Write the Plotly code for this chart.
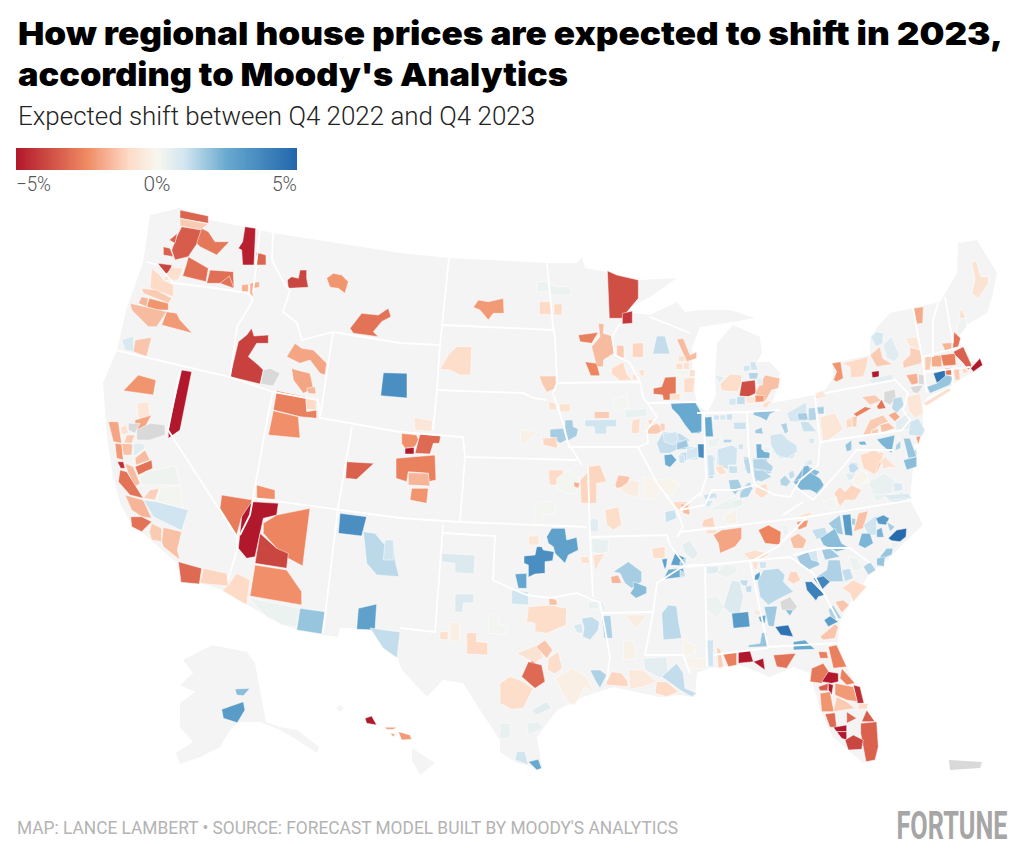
import json
import plotly.graph_objects as go
from plotly.colors import sample_colorscale

NA = None
TITLE_LINES = ["How regional house prices are expected to shift in 2023,", "according to Moody's Analytics"]
SUBTITLE = "Expected shift between Q4 2022 and Q4 2023"
SOURCE = "MAP: LANCE LAMBERT • SOURCE: FORECAST MODEL BUILT BY MOODY'S ANALYTICS"
BRAND = "FORTUNE"
LEGEND_TICKS = ["−5%", "0%", "5%"]
COLORSCALE = [[0, "#b2182b"], [0.25, "#ef8a62"], [0.4, "#fddbc7"], [0.5, "#f7f7f0"], [0.6, "#d1e5f0"], [0.75, "#67a9cf"], [1, "#2166ac"]]

LAND = [
 [150,215,180,208,210,220,243,227,273,233,400,253,450,258,547,263,577,263,582,257,585,268,607,272,640,280,677,278,650,297,622,312,650,315,677,302,685,312,700,310,730,310,755,318,733,322,700,327,692,347,693,380,697,405,708,412,716,395,715,377,717,343,733,325,760,337,762,353,757,362,770,362,780,373,778,387,772,403,815,395,825,390,833,378,833,363,870,355,870,340,877,327,890,313,913,308,940,302,957,273,958,243,977,240,997,273,993,293,987,313,963,327,957,343,963,347,965,360,983,363,980,370,967,375,948,388,927,397,923,405,923,427,917,443,905,452,913,467,910,500,923,525,907,540,887,560,870,573,850,603,840,620,837,647,850,673,877,737,877,757,863,763,833,737,820,710,810,673,793,667,770,677,740,665,710,668,697,673,695,697,680,695,660,697,613,687,583,697,557,710,537,737,542,768,517,763,500,752,500,740,480,710,463,683,443,680,427,697,402,670,397,657,370,628,340,628,338,637,323,635,300,630,282,625,248,605,222,590,200,583,180,582,177,563,150,540,130,522,120,503,113,477,107,437,103,383,117,350,127,307,143,263],
 [212,645,247,652,255,663,266,722,280,727,297,730,319,747,317,753,297,740,280,730,260,722,238,722,230,730,220,747,200,757,180,764,176,753,193,742,180,727,180,703,195,692,180,685,193,673,183,660],
 [412,748,435,763,420,775,412,760],
 [340,705,344,708,340,712,336,708],
]
STATE_LINES = [
 [147,262,158,265,173,283,207,287,248,293,253,300,237,327,230,377],
 [260,230,253,293],
 [273,233,272,260,285,285,290,290,283,312,297,323,302,340,333,332,400,343,440,345,449,258],
 [443,325,555,330],
 [333,332,320,418,400,432,463,437,465,457,577,460],
 [440,345,437,390,433,430],
 [437,390,523,393,533,398,547,400],
 [115,350,230,377,273,392,318,400,320,418],
 [180,370,168,430,237,537,237,550,228,580],
 [273,392,267,420,253,498,400,518,460,522,587,527],
 [253,498,250,515,240,535],
 [352,427,338,508,323,633],
 [465,457,460,522],
 [443,525,435,632,400,628],
 [443,533,495,536,493,580,510,588,527,595,550,598,577,593,593,600,600,602,602,613,610,657,607,680],
 [602,613,653,612],
 [590,537,667,535,670,545],
 [588,467,590,537,593,597],
 [547,263,553,327,555,337,557,383,553,393,563,423,568,443,582,465],
 [557,383,640,382,643,397,657,417,647,430,648,443,638,447,657,483,677,510,683,527,677,537],
 [568,447,638,447],
 [620,323,612,337,615,355,630,363,640,382],
 [647,403,700,402],
 [650,317,690,333],
 [697,413,747,412,780,410],
 [704,413,706,478,700,497],
 [747,412,749,457,755,485],
 [815,397,820,442,818,465,800,480,790,497,775,495,755,485,735,490,712,490,705,505,680,510],
 [820,442,903,430],
 [825,393,895,380,908,393,903,410,910,420,902,430],
 [913,308,917,330,922,357,927,393],
 [938,303,933,320,933,357],
 [922,357,960,347],
 [925,372,970,367],
 [945,297,953,343],
 [952,368,953,385],
 [680,532,807,517,912,500],
 [797,488,813,500,840,470,857,450,893,450],
 [803,502,783,515],
 [793,555,823,548,850,548,870,563],
 [807,517,777,547,750,562],
 [685,567,790,557,813,573,838,620],
 [768,647,837,643],
 [750,562,768,647],
 [713,655,768,648],
 [705,567,707,667],
 [670,545,685,565,657,583,653,613,645,655,683,655,690,673],
 [687,565,705,565],
 [680,510,700,493],
]

NW_VALUES = [-3.3,-1.3,-3.5,-2.9,-3.4,-3.4,-4.8,-3.3,-3.1,-3.1,-3.0,-4.0,-0.8,-1.0,-1.3,-1.7,-2.3,-1.6,-2.2,-1.8,-1.8,-4.0,-2.3,-3.0,3.5,-4.1,NA,-2.0,-2.0,-1.7,-2.7,-1.0,-2.4,0.8,-1.4,-2.3,-0.6,-2.0,-5.0]
NW_OUTLINES = [
 [240,30,325,48,325,70,240,55],[240,55,325,72,300,90,240,78],[245,80,305,90,295,125,265,170,225,180,215,150,230,110],
 [305,85,325,95,345,125,388,125,350,165,300,140,290,130],[190,140,210,145,220,170,190,165],[208,120,232,100,225,130],
 [435,80,467,85,462,195,428,195,425,150,415,145,428,125],[468,157,498,165,498,195,468,195],[265,170,325,205,318,245,248,228,260,190],
 [330,210,400,215,402,265,365,250,320,250],[360,250,388,228,402,265],[175,190,215,195,215,215,195,222,175,200],
 [215,200,250,205,235,240,190,240],[155,205,180,225,190,240,220,255,220,290,150,265],[125,265,170,270,215,295,205,310,130,280],
 [125,290,145,295,140,320,115,310],[148,295,205,310,205,330,170,330,140,320],[90,310,200,335,170,380,145,380,95,330],
 [200,335,230,340,240,360,277,400,185,375],[425,255,445,252,445,275,425,275],[450,250,478,245,478,262,462,265,458,290,450,280],
 [575,230,595,235,600,210,620,210,620,235,625,262,565,265,562,240],[680,235,700,220,725,225,745,245,735,280,715,265,690,262],
 [750,385,785,340,835,345,865,325,873,350,845,365,820,395,835,410,760,400],[850,518,921,520,921,594,842,587],
 [415,425,440,405,455,385,462,408,505,405,505,430,470,430,445,470,475,495,490,510,480,552,390,530],
 [490,510,510,505,540,520,520,558,482,552],[585,430,605,445,640,450,680,490,675,525,660,520,630,480,600,490,560,470],
 [575,505,590,510,630,520,640,565,610,580,580,540],[620,565,645,560,648,582,625,580],[530,572,618,590,620,635,650,630,650,655,600,650,520,630],
 [617,590,650,595,648,630,620,628],[520,632,595,650,600,714,505,705],[65,420,100,408,103,455,75,450],[105,420,155,412,140,470,100,455],
 [115,525,168,540,160,585,70,572],[110,610,145,605,150,650,125,670,115,650],[105,660,155,645,130,690,105,690],[245,510,275,515,240,690,205,715,205,690,210,660],
]

SW_VALUES = [NA,NA,-2.0,-0.8,-1.3,-1.5,0.6,-2.2,-1.6,-3.0,-4.5,-1.6,-3.0,0.2,-1.2,0.1,-1.7,-3.0,1.0,-1.3,-1.5,-3.2,-1.1,-1.0,-2.8,-5.0,-2.6,-4.0,-2.4,-2.4,0.3,1.8,2.8,3.5,1.3,1.0,1.2,-3.4]
SW_OUTLINES = [
 [110,30,150,10,195,15,195,45,150,60,110,60],[85,10,120,10,105,40,85,30],[25,5,55,5,65,70,40,65],[62,20,80,15,85,40,65,45],
 [80,45,105,45,95,70,72,68],[65,70,98,72,95,105,70,105],[100,70,130,70,135,85,100,110],[45,70,65,72,70,120,50,115],
 [105,115,135,90,150,120,108,135],[105,140,155,120,158,145,115,165],[52,125,70,125,75,145,62,145],[75,130,100,140,120,190,105,200,85,160],
 [60,150,80,155,130,235,90,225,55,185],[135,155,190,145,225,135,240,195,170,195,125,195,118,175],[150,210,178,205,165,240,130,235],
 [180,205,240,195,250,265,170,245],[75,225,130,240,155,295,125,290,95,270],[92,290,125,290,155,305,125,335,95,320],
 [130,240,170,245,265,270,245,332,160,290],[155,310,185,325,185,365,155,360,148,335],[190,322,245,335,232,390,240,420,190,380,185,365],
 [235,425,305,445,298,492,243,487],[310,445,380,460,385,498,300,490],[410,460,450,480,440,555,367,512,385,495],
 [365,225,458,240,445,275,425,290,410,345,360,265],[425,290,455,245,535,250,530,285,490,295,465,410,440,415,415,385],
 [490,310,530,285,630,265,608,438,565,415,530,385,490,340],[480,340,530,385,565,400,560,445,465,430],[470,195,525,210,525,238,470,235],
 [465,435,560,450,605,515,605,555,450,528],[445,533,600,565,590,620,550,615,500,590],[600,565,675,575,665,642,590,630],
 [775,565,830,552,825,630,770,628],[720,280,800,290,785,348,715,340],[790,335,825,340,850,370,880,360,885,420,897,470,830,465,800,430],
 [855,360,880,360,880,420,850,420],[810,624,900,636,891,714,849,684],[740,125,822,130,770,178,737,175],
]

MW_VALUES = [-2.4,-5.0,-3.2,-0.6,0.3,-2.2,-1.0,-1.0,-3.8,-4.3,-1.6,-2.7,-2.6,-1.3,-1.1,1.2,-1.0,-0.7,-0.7,-1.6,-0.8,-0.9,-0.8,0.1,-0.8,-0.9,-2.9,-0.8,3.0,-1.3,0.4,0.1,1.0,-0.9,-1.1,-1.3,-1.3,-1.0,-0.7,-0.8,1.6,1.6,-1.1,-0.2,-0.9,1.2,1.8,0.9]
MW_OUTLINES = [
 [5,610,50,615,55,630,45,650,15,655,5,640],[15,655,42,652,42,672,15,672],[60,612,122,618,118,640,100,640,90,672,45,670],
 [42,562,98,572,95,605,45,600],[410,155,445,155,465,170,510,170,515,195,455,195,445,185,410,185],
 [235,210,265,215,310,205,312,250,280,250,265,270,240,240,220,232],[418,215,455,215,455,253,418,253],[462,222,487,222,485,255,462,255],
 [622,122,650,135,715,150,715,205,665,265,628,265],[667,250,697,243,697,280,667,282],
 [595,280,612,282,610,310,637,318,642,370,610,390,610,410,590,410,575,350,600,320],[535,315,595,307,575,340,540,335],[555,395,590,400,600,437,572,437],
 [650,345,672,347,672,385,650,380],[697,340,730,338,730,382,697,382],[770,318,795,318,810,372,758,372],
 [635,415,670,395,680,432,695,450,660,452,635,432],[697,433,715,433,715,450,697,450],[715,420,733,418,733,438,722,438],
 [830,328,850,325,870,375,890,365,890,385,860,395],[835,378,855,378,855,395,835,395],[828,400,848,400,848,418,828,418],[850,398,868,398,868,418,850,418],
 [828,420,865,420,865,438,828,438],[868,420,885,420,885,440,868,440],[852,445,885,442,880,488,852,488],
 [795,442,828,440,828,510,790,510,788,495,760,492,760,475,785,470],[810,492,840,490,840,510,810,510],
 [875,595,900,590,900,610,875,610],
 [583,545,628,545,628,565,583,565],[672,540,740,535,742,558,678,565],[640,508,680,495,685,535,645,540],
 [555,570,650,568,650,590,620,590,620,612,585,612,582,590,555,590],[697,570,720,565,718,610,693,610],[742,570,765,570,765,580,750,585],
 [738,595,770,580,795,600,770,612,740,612],[418,438,468,438,468,475,440,487,425,460],[455,487,468,487,462,510],
 [445,515,470,520,470,540,448,540],[478,522,510,522,510,545,480,545],[495,570,518,570,520,590,535,597,530,618,505,632,495,605],
 [450,598,490,595,500,630,480,640,450,620],[428,625,470,622,472,655,430,645],[360,600,375,600,412,605,372,645,362,640],
 [170,350,215,350,212,435,180,435,150,420,120,418,145,375],[770,640,790,605,840,610,870,630,840,655,810,670,780,670],
 [830,635,860,630,870,655,835,660],[860,650,895,650,895,690,860,690],
]

NE_VALUES = [-0.7,-0.9,0.2,-1.9,-3.0,-1.7,0.9,-1.3,0.6,-0.6,-1.2,-2.3,-1.0,-5.0,0.5,-1.8,NA,NA,-1.3,-1.9,-2.7,-3.4,-5.0,-3.0,4.5,1.8,-1.3,-1.0,-0.9,-0.6,-3.8,-0.9,-1.5,-2.2,-0.6,-0.8,0.9,1.2,1.0,1.0,1.4,0.5,0.5]
NE_OUTLINES = [
 [815,95,830,95,842,140,865,140,865,160,835,205,815,190,825,150],[782,235,798,265,778,265],[780,265,800,265,800,290,775,320,770,300],
 [640,235,670,230,668,280,650,282],[762,305,782,325,775,350,758,355],[725,340,755,338,755,360,735,362],[512,320,530,305,550,310,548,340,528,350],
 [510,375,540,350,548,385,578,403,530,410],[550,345,575,318,585,345,598,375,585,395,560,385],[615,325,650,320,660,360,630,350],
 [630,352,660,360,668,375,665,400,610,415,608,395,630,375],[395,400,422,395,430,445,410,455,400,450,410,425],[425,400,505,380,500,410,490,440,452,443,450,410],
 [515,425,537,422,537,443,517,445],[510,445,580,432,580,450,510,462],[618,435,652,430,655,460,635,465],[655,432,672,435,672,465,655,462],[630,470,670,465,655,490,640,488],
 [675,380,695,380,690,420,675,420],[695,378,725,375,725,410,695,410],[722,375,765,370,768,405,730,408],[760,365,790,350,815,405,805,420,790,400,765,375],
 [812,415,840,385,848,405,820,425],[735,415,755,413,755,435,738,435],[700,430,735,420,738,460,710,458],[680,470,710,460,740,435,760,440,750,465,690,490],
 [760,415,778,412,780,450,765,450],[785,410,805,420,800,430,788,430],[670,520,745,475,755,480,680,527],[345,490,372,482,375,500,350,505],
 [125,455,165,450,168,490,145,500,118,498],[60,462,90,432,125,435,125,450,115,485,65,482],
 [170,480,195,435,240,445,235,475,215,480,195,515,165,490],[165,495,192,497,192,515,165,517],[135,500,165,500,165,520,140,520],[195,515,215,512,200,535,185,530],
 [87,505,108,505,108,525,87,525],[110,500,135,500,135,523,110,523],[130,408,150,405,150,422,132,425],[150,395,165,395,175,420,152,420],[145,428,175,428,172,447,148,447],
 [170,445,188,445,188,465,170,465],[45,435,75,440,60,460,50,450],
]

OHIO_VALLEY_VALUES = [2.5,2.5,1.0,0.9,1.1,1.1,1.4,0.3,1.0,1.0,1.0,-0.8,1.1,1.3,2.3,0.3,1.4,1.4,1.9,1.7,1.0,1.5,0.9,1.6,1.4,1.6,1.1,0.8,1.0,1.7,2.4,1.0,0.9,3.6,1.6,1.5,-0.9,0.4,1.1,0.9,1.4,1.2,2.2,0.8,-1.2]
OHIO_VALLEY_OUTLINES = [
 [32,40,60,38,105,35,125,70,125,125,95,130,75,105,55,75,35,55],[132,82,155,80,160,140,135,140],[160,75,178,75,178,90,162,90],[180,75,197,75,197,90,180,90],
 [200,72,217,72,217,90,200,90],[220,97,258,97,258,118,222,118],[190,148,215,148,215,158,190,158],[145,148,185,140,170,170,145,175],
 [172,178,215,165,232,175,230,225,205,225,205,240,175,225],[235,162,250,162,250,178,235,178],[142,195,160,195,165,255,145,260],[165,235,185,225,200,250,180,255],
 [205,228,232,228,232,250,208,250],[250,210,270,198,272,250,262,252],[288,162,305,162,305,178,330,190,328,205,290,205],[310,170,330,170,330,185,312,185],
 [278,208,310,205,340,230,335,245,300,240,280,235],[280,240,310,240,335,260,305,275,285,270],[280,65,355,60,330,72,320,92,300,82,280,75],[285,120,305,112,310,132,285,130],
 [330,135,365,130,385,150,410,165,412,185,380,205,350,195,332,165],[362,103,380,98,385,125,375,132],[380,70,440,35,440,95,390,95],[412,70,440,68,445,90,415,90],
 [445,55,465,52,470,90,445,92],[470,50,492,48,492,72,472,72],[420,95,445,95,470,125,430,125],[445,145,465,145,462,162,448,160],
 [10,130,50,125,55,150,40,165,12,155],[50,160,80,148,85,170,50,180],[12,195,35,192,50,210,30,232,15,225],[55,195,72,195,75,220,58,220],[80,180,115,170,115,200,80,210],
 [113,162,132,162,132,205,115,202],[205,270,235,268,245,290,225,315,210,295],[240,310,270,275,278,295,265,320,240,325],[285,295,320,280,325,310,305,325,285,310],
 [210,335,245,325,250,345,225,355],[130,315,165,308,165,322,135,330],[130,335,160,330,150,350,135,350],[360,270,375,255,392,275,380,290,362,285],[385,250,400,240,405,260,390,268],
 [400,275,425,265,430,230,445,225,455,250,480,265,492,285,470,310,450,300,420,300],[440,215,455,205,458,225,440,225],[0,100,15,100,15,122,3,122],
]

MID_ATLANTIC_VALUES = [-0.6,1.6,-0.6,-1.0,-1.2,-2.7,-1.3,-3.0,NA,1.3,-1.3,-1.3,-1.5,-1.9,0.5,-0.6,1.0,-2.2,1.8,2.2,1.5,1.8,2.2,-1.0,-0.8,2.0,1.2,0.6,-0.1,0.4,0.8,0.7]
MID_ATLANTIC_OUTLINES = [
 [15,48,35,30,50,50,20,58],[20,82,42,80,42,102,25,102],[30,112,75,98,100,148,70,170,40,192,32,140],[108,120,125,112,130,140,110,145],[125,110,142,108,140,140,128,142],
 [130,102,165,80,185,85,165,95,140,110],[155,50,195,45,215,62,180,75],[200,80,215,58,228,85,205,88],[222,35,255,28,258,55,240,75,222,65],[250,55,275,50,282,75,260,100,245,85],
 [158,165,180,120,220,105,235,125,210,135,190,150,180,165],[185,150,205,145,205,162,185,168],[210,135,235,128,255,145,215,158],[235,105,255,95,270,110,255,125],
 [255,125,300,95,302,145,258,155],[290,50,330,40,340,100,315,115,295,90],[300,125,325,115,345,150,335,170,295,165],[318,170,332,168,325,195],[280,175,300,175,320,230,295,235],
 [200,178,255,165,245,220,215,195],[258,195,272,182,272,205,255,212],[105,195,125,180,125,210,110,215],[145,185,165,183,170,195,150,195],[150,225,195,210,220,230,205,250,195,285,160,265],
 [225,230,250,255,250,262,225,262,210,245],[280,240,320,230,320,260,290,270],[115,255,130,248,148,265,130,280,118,275],[105,280,130,280,140,295,115,302],[130,290,155,270,175,290,150,320,130,315],
 [175,310,220,280,255,300,245,340,195,345],[248,310,275,310,280,330,255,335],[220,345,295,340,305,355,240,360],
]

PLAINS_VALUES = [-2.7,-1.7,-2.3,-1.0,0.1,-1.8,-1.1,-1.4,-0.4,-0.1,-1.0,1.1,0.6,-0.9,0.1,2.8,-0.6,3.5,2.6,1.0,0.4,-0.8,-0.8,-0.9,2.8,2.8,0.5,2.4,1.6,-1.7,2.0,0.7,0.7,-0.8,-0.3,0.1,-1.0,-0.9,-1.5,0.8,1.2,0.4,0.4,1.5,-0.4,1.3,-0.2,-0.1,-0.7,-1.4,-0.9,-3.2]
PLAINS_OUTLINES = [
 [-12,25,105,15,108,90,85,95,85,70,25,65,20,95,-12,85],[25,68,85,70,90,108,25,105],[35,115,85,115,80,160,30,150],
 [445,60,490,60,490,90,470,105,448,105],[470,85,505,60,540,85,530,130,500,130,470,115],[522,95,540,100,535,115,522,110],
 [540,90,560,70,560,50,600,45,620,95,590,100,590,160,565,160,543,160],[645,105,655,75,690,80,680,110,650,115],[660,115,695,90,718,95,715,140,680,135],
 [730,80,770,90,800,85,840,100,810,140,785,120,760,150,730,145],[820,155,870,155,870,195,845,185,825,170],[795,185,825,180,830,205,797,218],
 [565,205,595,208,595,245,570,245],[615,180,655,170,665,225,640,240,620,225],[405,160,445,155,468,165,465,190,430,195,425,225,402,222],
 [440,260,455,235,495,235,500,270,530,262,535,300,505,315,495,340,465,310,460,290,445,280],[385,258,417,258,417,285,385,285],
 [372,318,405,315,410,290,425,290,430,300,462,305,458,332,435,335,435,370,405,372,385,382,385,345,372,340],[345,372,380,370,380,415,355,415],
 [335,420,385,425,385,465,335,462],[575,265,625,270,625,305,600,312,575,305],[578,315,615,310,595,345,585,365],[540,320,565,320,570,340,545,340],
 [755,295,795,290,795,325,760,325],[785,328,802,325,800,345,795,360,790,345],[812,345,825,310,858,325,855,348],[845,285,870,270,895,310,880,330,855,310],
 [790,388,805,358,850,355,855,380],[640,365,685,335,725,365,725,395,695,415,675,400,660,370],[632,380,655,375,665,400,635,400],
 [700,395,740,410,740,430,708,445,690,430,700,415],[125,310,225,315,222,372,165,368,165,340,125,335],[165,432,222,432,220,458,190,460,188,488,165,485],
 [120,545,145,545,143,570,120,568],[150,518,180,518,178,575,150,572],[265,495,295,495,295,520,322,528,322,552,265,550],[200,548,230,548,230,575,263,578,263,615,200,612],
 [385,470,450,465,500,475,498,525,440,550,405,545,405,520,380,515],[445,442,470,450,472,465,448,465],[520,525,545,520,550,550,530,548],
 [545,505,575,500,598,515,595,540,570,570,548,560,552,535],[565,455,595,455,597,475,565,477],[585,440,610,455,618,485,605,485],[605,497,632,497,638,565,612,565],
 [675,495,740,495,710,535],[785,490,805,465,830,468,835,510,845,565,790,570],[670,575,700,572,710,625,670,630],[850,565,890,590,885,610,850,620],
 [350,610,410,585,430,620,405,640],[408,590,435,570,458,600,440,625],[445,625,475,605,487,655,465,672,442,660],[365,680,395,632,425,650,435,690],
]

GULF_VALUES = [-3.2,-0.9,0.6,0.4,0.4,1.0,2.5,-0.3,1.5,-1.1,-0.5,-1.0,0.5,1.2,-0.1,1.0,-1.2,-2.7,-5.0,-5.0,-3.0,-2.7,-2.7,-2.9,-5.0,-2.7,-4.5,-3.5,-5.0,-2.2,-2.3,-1.3,-1.0,-3.2,-3.2,-3.5,-3.4,-5.0,-5.0,-4.0]
GULF_OUTLINES = [
 [65,110,85,65,125,75,135,125,105,145],[0,130,30,110,60,120,100,145,70,205,35,208,0,190],[95,210,140,185,155,205,110,225],[0,250,30,250,30,295,0,295],
 [80,250,115,245,130,265,85,285],[45,360,50,335,75,335,85,375],[85,365,115,358,125,385,110,390],[165,115,215,85,260,110,285,165,255,140,225,195,205,190],
 [270,90,300,90,320,105,300,145,285,120],[320,125,335,95,365,100,383,125,383,140,320,135],[385,90,430,90,470,125,430,140,390,148],[470,125,500,125,535,155,500,170,465,160],
 [430,55,500,50,505,100,480,115,435,90],[485,110,530,70,550,100,555,145,590,160,575,170,540,150],[560,50,620,55,620,85,555,85],[620,0,640,0,640,80,625,80],
 [650,20,662,30,670,80,655,85],[668,40,710,35,710,75,685,80],[715,35,750,32,760,65,715,70],[760,65,790,55,795,90],[820,45,888,40,860,85,830,80],
 [985,20,1010,15,1040,80,1000,85],[955,35,980,35,985,55,960,55],[935,85,970,70,990,100,965,130,930,125],[965,125,985,95,1015,100,1015,125,995,130],
 [1025,85,1065,130,1040,135,1020,115],[1060,135,1080,140,1092,190,1072,190],[955,140,985,130,983,152,960,152],[985,130,1000,135,995,165,985,150],
 [1005,130,1060,140,1072,185,1040,180,1005,165],[960,160,990,155,1002,215,965,215],[1010,170,1040,185,1065,205,1000,215],[1075,192,1105,190,1100,207,1075,208],
 [975,222,1005,218,1010,262,990,262],[1040,215,1070,235,1040,250],[1085,245,1100,210,1125,245],[1082,250,1130,245,1135,320,1125,360,1098,365,1082,280],
 [1000,262,1040,255,1040,275,1010,275],[1010,275,1040,275,1040,300,1025,295],[1035,300,1060,285,1090,300,1085,328,1045,330],
]

SE_VALUES = [3.0,1.2,1.3,1.0,-0.6,1.0,1.4,1.5,1.3,1.5,1.8,1.7,0.9,-0.8,1.4,1.1,2.0,0.9,1.6,-1.2,-1.3,1.4,1.4,1.0,0.6,0.0,0.4,1.0,0.7,-1.1,0.1,0.3,1.3,1.2,-1.6,-1.1,-0.2,-0.8,-2.2,0.3,-2.6,-2.0,-0.9,-1.5,1.2,1.7,3.0,1.6,-1.5,2.0,1.0,3.0,2.2,1.6,4.8,2.2,1.8,0.3,1.7,0.9,1.7,1.5,1.2,0.3,1.5,1.8,-0.8,-0.7,1.0,2.8,1.3,-1.1,4.0,3.8,0.6,0.3,0.3,0.7,1.2,1.2,3.0,-0.5,2.4,1.7,NA,2.0,4.5,1.8,2.5,-1.0,-1.4,1.5,2.9,-1.4,1.6,1.2]
SE_OUTLINES = [
 [55,0,72,0,72,20,55,20],[0,10,25,5,30,25,5,40],[80,15,105,20,100,85,85,85],[110,0,170,0,172,40,140,45,110,45],[105,45,135,48,135,70,115,75],[145,50,165,45,165,65,145,68],
 [150,90,175,90,185,120,160,130],[180,125,205,95,218,115,200,145],[190,20,212,20,212,70,195,60],[218,25,260,25,275,70,250,70,220,60],[220,70,245,60,250,85,225,95],
 [230,0,270,5,262,20,232,20],[275,0,350,0,340,25,300,25],[225,115,250,100,268,125,250,140,225,135],[300,90,320,80,330,100,300,108],[325,70,335,60,345,80,330,85],
 [340,95,375,45,420,65,395,90,365,120],[375,35,395,25,395,45,375,48],[395,95,425,90,430,115,410,135,395,115],[545,40,570,0,610,10,605,40,590,70,565,60],
 [605,40,640,45,650,50,610,55],[680,25,710,22,705,50,680,55],[680,0,710,0,710,15,680,15],[510,35,535,40,530,60,510,60],[495,70,525,60,530,85,505,95],
 [530,85,560,65,565,100,530,100],[570,90,610,72,640,105,640,125,590,155,570,120],[640,95,670,100,660,125,640,125],[620,150,665,125,695,145,650,160],
 [480,110,495,125,515,105,545,120,525,150,495,150,480,170,462,130],[430,155,470,140,470,175,440,175],[100,170,165,140,190,165,140,180,95,180],
 [70,135,110,130,110,145,75,148],[75,152,100,155,85,168],[0,160,25,165,30,195,10,190],[70,210,100,200,105,232,65,230],[130,195,170,180,170,220,140,222],
 [340,205,390,185,395,195,345,210],[350,215,385,210,380,230,355,240],[305,225,325,225,325,255,310,255],[235,240,265,225,303,245,300,285,255,280],
 [100,255,125,240,185,232,185,265,165,290,120,310,115,280],[75,240,115,240,105,250,85,252],[330,265,355,250,380,270,370,295,340,295],[395,240,435,232,445,260,410,268],
 [445,220,480,195,490,255,470,250],[487,195,512,192,518,258,495,255],[515,205,527,205,527,225,515,225],[520,245,535,190,565,182,550,235],
 [420,265,465,235,485,280,510,295,470,305,430,285],[550,225,590,195,590,255,565,255],[587,205,610,195,628,205,618,225,595,222],[590,240,605,232,612,262,590,262],
 [620,215,645,230,630,245],[625,265,650,240,680,235,678,260,660,275,635,272],[535,285,545,250,570,250,580,280,555,295],[620,295,640,295,635,315,620,320,600,350,590,345,600,320],
 [630,275,660,280,640,300],[350,320,395,300,420,345,385,360,360,340],[385,305,410,300,415,335,395,330],[425,300,450,295,480,320,435,330],[410,380,440,360,445,330,480,330,490,395,440,395],
 [485,360,510,355,520,385,495,395],[505,320,530,325,550,355,520,365],[550,350,570,335,588,360,565,375],[590,325,615,320,612,350,590,345],[190,310,225,300,270,312,250,325,210,330],
 [215,335,235,335,232,358,222,358],[238,335,260,335,258,355,240,355],[225,375,240,365,240,390,222,390],[232,395,250,360,295,355,315,375,310,395,340,425,300,445,265,465,240,440],
 [330,365,350,365,362,390,340,402,322,390],[375,395,395,395,435,435,415,440,408,452,380,420],[400,385,430,378,450,395,425,420],[80,350,115,348,115,370,80,372],
 [108,370,130,345,170,345,170,365,140,385],[80,445,110,435,135,470,110,505,80,480],[130,470,155,390,180,395,190,440,180,490,150,490],[178,390,205,390,200,410,185,405],
 [195,410,215,405,215,425,200,428],[155,490,205,485,210,530,160,535],[220,480,250,480,245,495,225,495],[235,500,258,495,255,520,240,515],[252,470,292,468,282,530,265,528],
 [300,455,330,440,352,470,340,485,305,480],[315,480,340,480,330,498],[285,530,325,525,340,560,302,555],[205,585,240,580,245,548,260,548,262,590,205,592],[340,575,375,570,405,598,340,600],
 [485,415,520,390,560,410,520,455,510,430],[465,455,490,450,508,465,485,488],[445,480,460,465,485,505,455,510],[432,510,450,498,475,515,445,530],[420,560,465,522,475,530,465,565,430,570],
 [0,335,15,325,18,345,0,348],[0,360,15,370,15,380,0,380],
]

ISLAND_VALUES = [2.0,3.0,-5.0,-2.2,-2.2,-2.2]
ISLAND_OUTLINES = [
 [165,207,210,205,190,227,170,225],[125,268,190,245,195,270,172,308,130,295],[555,295,575,288,590,315,560,310],[615,322,650,322,640,328,620,328],[630,340,645,342,640,350],[655,335,690,345,695,358,665,360],
]
PUERTO_RICO_OUTLINE = [949,760,982,762,980,768,950,770]

GROUPS = [
 (NW_VALUES, NW_OUTLINES, 100, 200), (SW_VALUES, SW_OUTLINES, 100, 420), (MW_VALUES, MW_OUTLINES, 400, 230),
 (NE_VALUES, NE_OUTLINES, 700, 230), (PLAINS_VALUES, PLAINS_OUTLINES, 400, 450), (GULF_VALUES, GULF_OUTLINES, 500, 640),
 (SE_VALUES, SE_OUTLINES, 680, 450), (ISLAND_VALUES, ISLAND_OUTLINES, 180, 620),
 (OHIO_VALLEY_VALUES, OHIO_VALLEY_OUTLINES, 660, 390), (MID_ATLANTIC_VALUES, MID_ATLANTIC_OUTLINES, 810, 380),
]

def color_for(v):
    if v is None:
        return "#d9d9d9"
    return sample_colorscale(COLORSCALE, [(v + 5) / 10])[0]

def closed(flat, ox=0, oy=0, k=1.0):
    xs = [ox + a * k for a in flat[::2]]
    ys = [oy + b * k for b in flat[1::2]]
    return xs + xs[:1], ys + ys[:1]

fig = go.Figure()
for flat in LAND:
    x, y = closed(flat)
    fig.add_trace(go.Scatter(x=x, y=y, mode="lines", fill="toself", fillcolor="#f4f4f4", line=dict(width=0, color="#f4f4f4"), hoverinfo="skip", showlegend=False))
x, y = closed(PUERTO_RICO_OUTLINE)
fig.add_trace(go.Scatter(x=x, y=y, mode="lines", fill="toself", fillcolor="#d9d9d9", line=dict(width=0, color="#d9d9d9"), hoverinfo="skip", showlegend=False))
for values, outlines, ox, oy in GROUPS:
    for v, flat in zip(values, outlines):
        x, y = closed(flat, ox, oy, 1 / 3)
        fig.add_trace(go.Scatter(x=x, y=y, mode="lines", fill="toself", fillcolor=color_for(v), line=dict(width=0.5, color="#ffffff"), hoverinfo="skip", showlegend=False))
for flat in STATE_LINES:
    fig.add_trace(go.Scatter(x=flat[::2], y=flat[1::2], mode="lines", line=dict(width=1.8, color="#ffffff"), hoverinfo="skip", showlegend=False))

LEGEND_X = [i / 10 for i in range(-50, 51)]
fig.add_trace(go.Heatmap(z=[LEGEND_X, LEGEND_X], x=LEGEND_X, y=[0, 1], xaxis="x2", yaxis="y2", colorscale=COLORSCALE, zmin=-5, zmax=5, zsmooth="best", showscale=False, hoverinfo="skip"))

W, H = 1024, 862
TEXT_WIDTHS = {}
def note(text, px, py, size, color, family, width, anchor="left", weight=None):
    TEXT_WIDTHS[text] = width
    fig.add_annotation(text=text, xref="paper", yref="paper", x=px / W, y=1 - py / H, xanchor=anchor, yanchor="middle", showarrow=False,
                       font=dict(size=size, color=color, family=family, weight=weight), align=anchor)

note(TITLE_LINES[0], 16, 34, 32, "#000000", "Inter", 985, weight=900)
note(TITLE_LINES[1], 16, 75, 32, "#000000", "Inter", 550, weight=900)
note(SUBTITLE, 16, 116, 25.5, "#222222", "Roboto", 517, weight=300)
note(LEGEND_TICKS[0], 14, 184, 20, "#555555", "Roboto", 35, weight=300)
note(LEGEND_TICKS[1], 157, 184, 20, "#555555", "Roboto", 27, anchor="center", weight=300)
note(LEGEND_TICKS[2], 299, 184, 20, "#555555", "Roboto", 25, anchor="right", weight=300)
note(SOURCE, 15, 828, 17.5, "#b3b3b3", "Roboto", 661)
note(BRAND, 1010, 826, 39, "#a6a6a6", "Roboto", 111, anchor="right", weight=700)

fig.update_layout(
    width=W, height=H, autosize=False, margin=dict(l=0, r=0, t=0, b=0), paper_bgcolor="#ffffff", plot_bgcolor="#ffffff",
    xaxis=dict(range=[0, W], visible=False, fixedrange=True, domain=[0, 1]),
    yaxis=dict(range=[H, 0], visible=False, fixedrange=True, domain=[0, 1]),
    xaxis2=dict(domain=[16 / W, 297 / W], visible=False, anchor="y2", fixedrange=True, range=[-5, 5]),
    yaxis2=dict(domain=[1 - 170 / H, 1 - 148 / H], visible=False, anchor="x2", fixedrange=True, range=[0, 1]),
)
FIT_TEXT = (
    "document.body.style.margin='0';document.body.style.overflow='hidden';"
    "var w=" + json.dumps(TEXT_WIDTHS) + ";"
    "document.querySelectorAll('.annotation-text').forEach(function(t){var n=w[t.textContent];"
    "if(n){t.setAttribute('textLength',n);t.setAttribute('lengthAdjust','spacingAndGlyphs');}});"
)
fig.write_html("out.html", config={"displayModeBar": False}, post_script=FIT_TEXT)
